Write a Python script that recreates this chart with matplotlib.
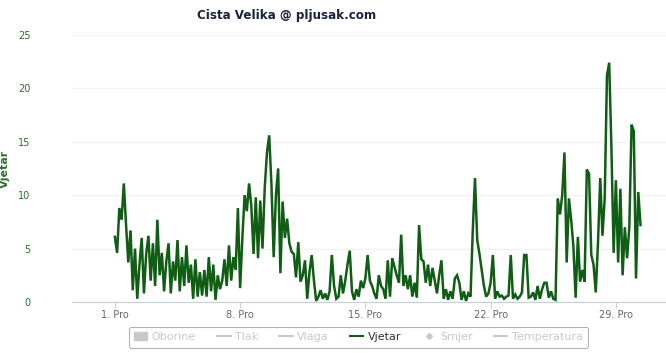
import numpy as np
import matplotlib.pyplot as plt
from matplotlib.lines import Line2D
from matplotlib.patches import Patch

# wind speed, 3-hour steps starting 1. Pro 00:00
vjetar = [
    6.1, 4.6, 8.8, 7.7, 11.1, 7.2, 3.7, 6.7,      # 1
    1.1, 5.0, 0.3, 3.5, 6.0, 0.8, 4.5, 6.2,       # 2
    2.0, 5.5, 1.5, 7.7, 2.5, 4.6, 1.0, 3.8,       # 3
    5.5, 0.8, 3.8, 2.0, 5.8, 1.0, 4.2, 1.5,       # 4
    5.3, 1.8, 3.5, 0.3, 4.0, 0.5, 2.8, 0.6,       # 5
    3.0, 0.5, 4.2, 1.0, 3.5, 0.2, 2.5, 1.2,       # 6
    2.0, 4.0, 1.5, 5.3, 2.0, 4.2, 3.0, 8.8,       # 7
    1.3, 6.0, 10.0, 8.5, 11.1, 9.0, 4.5, 9.8,     # 8
    4.1, 9.5, 5.0, 10.7, 14.0, 15.6, 11.0, 4.2,   # 9
    10.0, 12.5, 2.7, 9.4, 6.0, 7.8, 5.5, 4.7,     # 10
    4.5, 2.3, 5.6, 1.9, 2.5, 3.9, 0.3, 2.8,       # 11
    4.4, 2.0, 0.1, 0.5, 1.1, 0.3, 0.8, 0.2,       # 12
    1.0, 4.4, 1.5, 0.3, 0.5, 2.5, 0.8, 2.0,       # 13
    3.5, 4.8, 1.0, 0.2, 1.2, 0.5, 2.0, 1.3,       # 14
    2.2, 4.4, 2.0, 1.5, 0.8, 0.3, 2.5, 1.5,       # 15
    1.2, 0.3, 3.9, 0.5, 4.1, 3.3, 2.5, 1.8,       # 16
    6.3, 1.5, 2.5, 1.2, 2.5, 0.5, 1.8, 0.4,       # 17
    7.2, 4.0, 3.8, 1.8, 3.5, 1.5, 3.2, 2.0,       # 18
    0.8, 2.5, 3.9, 0.3, 1.2, 0.2, 1.0, 0.3,       # 19
    2.2, 2.5, 1.8, 0.2, 1.0, 0.1, 0.8, 0.5,       # 20
    6.6, 11.6, 5.8, 4.5, 3.0, 1.5, 0.5, 0.8,      # 21
    1.8, 4.4, 0.3, 1.0, 0.5, 0.6, 0.3, 0.5,       # 22
    0.6, 4.4, 0.3, 0.7, 0.3, 0.5, 0.9, 4.4,       # 23
    4.4, 0.4, 0.5, 0.9, 0.2, 1.5, 0.3, 1.2,       # 24
    1.8, 1.8, 0.4, 1.0, 0.3, 0.2, 9.7, 8.2,       # 25
    10.0, 14.0, 3.7, 9.7, 7.7, 5.2, 0.4, 6.1,     # 26
    1.9, 3.0, 1.9, 12.4, 12.0, 4.4, 3.5, 0.9,     # 27
    5.6, 11.6, 6.2, 9.7, 21.2, 22.4, 14.4, 4.6,   # 28
    11.4, 3.7, 10.6, 2.5, 7.0, 4.1, 7.0, 16.6,    # 29
    16.0, 2.2, 10.3, 7.2,                         # 30
]
tick_days = [0, 7, 14, 21, 28]
tick_labels = ['1. Pro', '8. Pro', '15. Pro', '22. Pro', '29. Pro']

days = np.arange(len(vjetar)) / 8.0

fig = plt.figure(figsize=(6.66, 3.53), dpi=100)
ax = fig.add_axes([0.108, 0.1445, 0.892, 0.7565])

ax.plot(days, vjetar, color='#0f5e14', lw=1.8, solid_joinstyle='miter')

ax.set_xlim(-2.4, 30.8)
ax.set_ylim(0, 25)
ax.set_yticks([0, 5, 10, 15, 20, 25])
ax.set_xticks(tick_days)
ax.set_xticklabels(tick_labels)
ax.grid(axis='y', color='#f2f2f2', lw=1)
ax.set_axisbelow(True)
for s in ['top', 'right', 'left']:
    ax.spines[s].set_visible(False)
ax.spines['bottom'].set_color('#c0d0e0')
ax.tick_params(axis='y', length=0, labelsize=7, labelcolor='#2d6e2d', pad=30)
ax.tick_params(axis='x', length=4, color='#c0d0e0', labelsize=7, labelcolor='#666666', pad=2)
ax.set_ylabel('Vjetar', fontsize=8, fontweight='bold', color='#2d6e2d')
ax.yaxis.set_label_coords(-0.104, 0.5)

fig.text(0.43, 0.955, 'Cista Velika @ pljusak.com', ha='center', va='center',
         fontsize=8.6, fontweight='bold', color='#1a2440')

off = '#c8c8c8'
handles = [
    Patch(facecolor=off, edgecolor=off),
    Line2D([], [], color=off, lw=1.5),
    Line2D([], [], color=off, lw=1.5),
    Line2D([], [], color='#0f5e14', lw=1.5),
    Line2D([], [], color=off, lw=0, marker='D', markersize=3),
    Line2D([], [], color=off, lw=1.5),
]
names = ['Oborine', 'Tlak', 'Vlaga', 'Vjetar', 'Smjer', 'Temperatura']
leg = fig.legend(handles, names, ncol=6, loc='center', bbox_to_anchor=(0.538, 0.045),
                 fontsize=8, frameon=True, fancybox=True, handlelength=1.2,
                 handletextpad=0.4, columnspacing=1.9, borderpad=0.5)
leg.get_frame().set_edgecolor('#a0a0a0')
leg.get_frame().set_linewidth(0.8)
for t, n in zip(leg.get_texts(), names):
    t.set_color('#333333' if n == 'Vjetar' else off)

fig.savefig('out.png', dpi=100)
